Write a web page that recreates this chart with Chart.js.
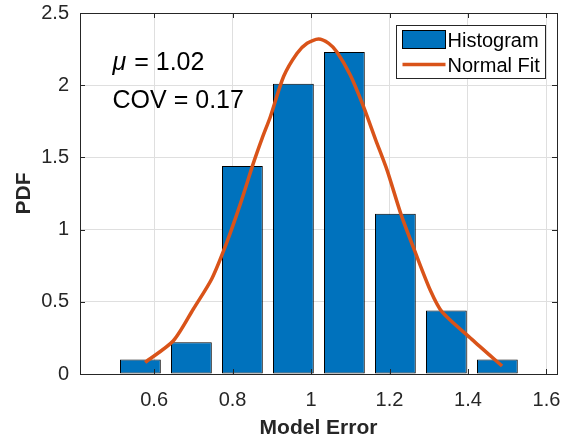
<!DOCTYPE html>
<html>
<head>
<meta charset="utf-8">
<script src="https://cdn.jsdelivr.net/npm/chart.js@4.4.0/dist/chart.umd.min.js"></script>
<style>
    html, body { margin: 0; padding: 0; background: #fff; }
</style>
</head>
<body>
<canvas id="model_error_chart" width="564" height="442"></canvas>
<script>
// histogram bins (centre of each bin) and normalised height
var bin_centers = [0.565, 0.695, 0.825, 0.955, 1.085, 1.215, 1.345, 1.475]
var bin_pdf = [0.10, 0.22, 1.44, 2.01, 2.23, 1.11, 0.44, 0.10]

// normal fit curve
var fit_x = [0.577, 0.649, 0.70, 0.747, 0.785, 0.82, 0.853, 0.875, 0.896, 0.93, 0.964, 0.99, 1.019,
    1.045, 1.066, 1.10, 1.134, 1.165, 1.194, 1.23, 1.266, 1.304, 1.334, 1.41, 1.487]
var fit_y = [0.08, 0.23, 0.45, 0.66, 0.91, 1.18, 1.46, 1.63, 1.78, 2.06, 2.22, 2.29, 2.32,
    2.29, 2.23, 2.07, 1.85, 1.62, 1.41, 1.10, 0.84, 0.58, 0.43, 0.24, 0.055]

var x_ticks = [0.6, 0.8, 1, 1.2, 1.4, 1.6]
var y_ticks = [0, 0.5, 1, 1.5, 2, 2.5]
var series_names = ['Histogram', 'Normal Fit']
var stat_mu = '1.02'
var stat_cov = '0.17'

var FONT = "'Liberation Sans', Arial, Helvetica, sans-serif"
var AXIS_COLOR = '#262626'
var BAR_COLOR = '#0072BD'
var FIT_COLOR = '#D95319'

Chart.defaults.font.family = FONT
Chart.defaults.color = AXIS_COLOR

// matlab style box, inward ticks, legend and the text block
var matlab_axes = {
    id: 'matlab_axes',
    afterDraw: function (chart) {
        var c = chart.ctx
        var a = chart.chartArea
        var xs = chart.scales.x
        var ys = chart.scales.y
        c.save()

        c.strokeStyle = AXIS_COLOR
        c.lineWidth = 1
        c.beginPath()
        x_ticks.forEach(function (v) {
            var px = Math.round(xs.getPixelForValue(v)) + 0.5
            c.moveTo(px, a.bottom); c.lineTo(px, a.bottom - 5)
            c.moveTo(px, a.top); c.lineTo(px, a.top + 5)
        })
        y_ticks.forEach(function (v) {
            var py = Math.round(ys.getPixelForValue(v)) + 0.5
            c.moveTo(a.left, py); c.lineTo(a.left + 5, py)
            c.moveTo(a.right, py); c.lineTo(a.right - 5, py)
        })
        c.stroke()
        c.strokeRect(Math.round(a.left) + 0.5, Math.round(a.top) + 0.5,
            Math.round(a.right - a.left), Math.round(a.bottom - a.top))

        // text block
        var tx = xs.getPixelForValue(0.494)
        var ty1 = ys.getPixelForValue(2.155)
        var ty2 = ys.getPixelForValue(1.887)
        c.fillStyle = '#000'
        c.textBaseline = 'middle'
        c.textAlign = 'left'
        c.font = 'italic 25px ' + FONT
        c.fillText('\u03bc', tx, ty1)
        var mw = c.measureText('\u03bc').width
        c.font = '25px ' + FONT
        c.fillText(' = ' + stat_mu, tx + mw + 1, ty1)
        c.fillText('COV = ' + stat_cov, tx, ty2)

        // legend box, north east
        var lx = Math.round(a.right) - 160.5
        var ly = Math.round(a.top) + 12.5
        c.fillStyle = '#fff'
        c.fillRect(lx, ly, 149, 53)
        c.strokeStyle = AXIS_COLOR
        c.strokeRect(lx, ly, 149, 53)

        var bar_ds = chart.data.datasets[1]
        var fit_ds = chart.data.datasets[0]
        c.fillStyle = bar_ds.backgroundColor
        c.fillRect(lx + 6, ly + 5, 43, 18)
        c.strokeStyle = '#000'
        c.strokeRect(lx + 6, ly + 5, 43, 18)

        c.strokeStyle = fit_ds.borderColor
        c.lineWidth = 3.5
        c.beginPath()
        c.moveTo(lx + 6, ly + 39)
        c.lineTo(lx + 49, ly + 39)
        c.stroke()

        c.fillStyle = '#000'
        c.font = '20px ' + FONT
        c.fillText(bar_ds.label, lx + 51, ly + 15.5)
        c.fillText(fit_ds.label, lx + 51, ly + 40.5)
        c.restore()
    }
}

var ctx_model_error = document.getElementById('model_error_chart').getContext('2d')
var model_error_chart = new Chart(ctx_model_error, {
    type: 'bar',
    data: {
        datasets: [{
            type: 'line',
            label: series_names[1],
            data: fit_x.map(function (x, i) { return { x: x, y: fit_y[i] } }),
            borderColor: FIT_COLOR,
            borderWidth: 3.5,
            pointRadius: 0,
            tension: 0.25,
            fill: false,
            order: 0
        }, {
            type: 'bar',
            label: series_names[0],
            data: bin_centers.map(function (x, i) { return { x: x, y: bin_pdf[i] } }),
            backgroundColor: BAR_COLOR,
            borderColor: '#000',
            borderWidth: 1,
            borderSkipped: false,
            barPercentage: 0.8,
            categoryPercentage: 1,
            order: 1
        }]
    },
    options: {
        responsive: false,
        devicePixelRatio: 1,
        animation: false,
        layout: { padding: { left: 0, top: 13, right: 7, bottom: 0 } },
        plugins: {
            legend: { display: false },
            tooltip: { enabled: false }
        },
        scales: {
            x: {
                type: 'linear',
                offset: false,
                min: 0.411,
                max: 1.627,
                grid: { color: '#dfdfdf', drawTicks: false, offset: false },
                border: { display: false },
                ticks: {
                    font: { size: 20 },
                    color: AXIS_COLOR,
                    padding: 14,
                    maxRotation: 0,
                    callback: function (v) { return String(v) }
                },
                afterBuildTicks: function (scale) {
                    scale.ticks = x_ticks.map(function (v) { return { value: v } })
                },
                afterFit: function (scale) {
                    scale.height = 68
                    scale.paddingLeft = 0
                    scale.paddingRight = 0
                },
                title: {
                    display: true,
                    text: 'Model Error',
                    font: { size: 21, weight: 'bold' },
                    color: AXIS_COLOR,
                    padding: { top: 0, bottom: 1 }
                }
            },
            y: {
                min: 0,
                max: 2.5,
                grid: { color: '#dfdfdf', drawTicks: false },
                border: { display: false },
                ticks: {
                    font: { size: 20 },
                    color: AXIS_COLOR,
                    padding: 11,
                    callback: function (v) { return String(v) }
                },
                afterBuildTicks: function (scale) {
                    scale.ticks = y_ticks.map(function (v) { return { value: v } })
                },
                afterFit: function (scale) {
                    scale.width = 80
                    scale.paddingTop = 0
                    scale.paddingBottom = 0
                },
                title: {
                    display: true,
                    text: 'PDF',
                    font: { size: 21, weight: 'bold' },
                    color: AXIS_COLOR,
                    padding: { top: 12, bottom: 0 }
                }
            }
        }
    },
    plugins: [matlab_axes]
})
</script>
</body>
</html>
